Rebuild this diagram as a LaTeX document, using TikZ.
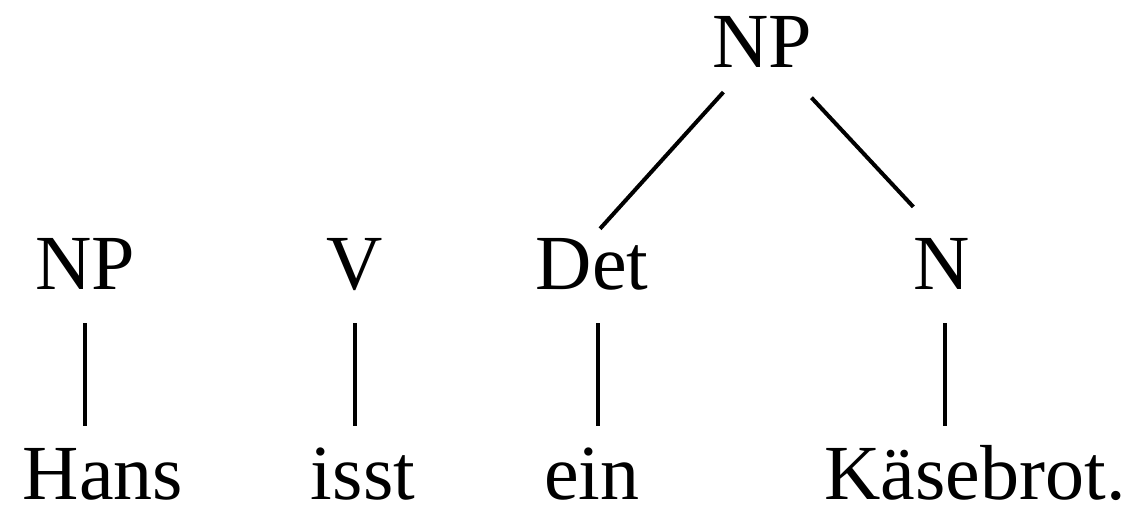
\documentclass[tikz,border=0pt]{standalone}
\usepackage{fontspec}
\setmainfont{Liberation Serif}
\usetikzlibrary{positioning,calc}
\tikzset{
  cat/.style={inner sep=0pt,anchor=base,text height=26pt,text depth=0pt,
              font=\fontsize{39}{46}\selectfont},
  word/.style={cat},
  branch/.style={line width=2pt,color=black}
}
\begin{document}
\begin{tikzpicture}[x=0.5pt,y=-0.5pt]
  \useasboundingbox (0,0) rectangle (1132,507);

  % categories
  \node[cat] (npT) at (762,68) {NP};
  \node[cat] (np)  at (85,290) {NP};
  \node[cat] (v)   at (355,290) {V};
  \node[cat] (det) at (592,290) {Det};
  \node[cat] (n)   at (942,290) {N};

  % words
  \node[word] (hans) at (103,500) {Hans};
  \node[word] (isst) at (363,500) {isst};
  \node[word] (ein)  at (592,500) {ein};
  \node[word] (kase) at (975,500) {Käsebrot.};

  \draw[branch,shorten <=16pt,shorten >=6pt] (npT.237)--(det.north);
  \draw[branch,shorten <=20pt,shorten >=21pt] (npT.310)--(n.north);
  \draw[branch,shorten <=16.5pt,shorten >=11pt] (np.south)--(np.south |- hans.north);
  \draw[branch,shorten <=16.5pt,shorten >=11pt] (v.south)--(v.south |- isst.north);
  \draw[branch,shorten <=16.5pt,shorten >=11pt] ([xshift=3pt]det.south)--([xshift=3pt]det.south |- ein.north);
  \draw[branch,shorten <=16.5pt,shorten >=11pt] ([xshift=1.5pt]n.south)--([xshift=1.5pt]n.south |- kase.north);
\end{tikzpicture}
\end{document}
